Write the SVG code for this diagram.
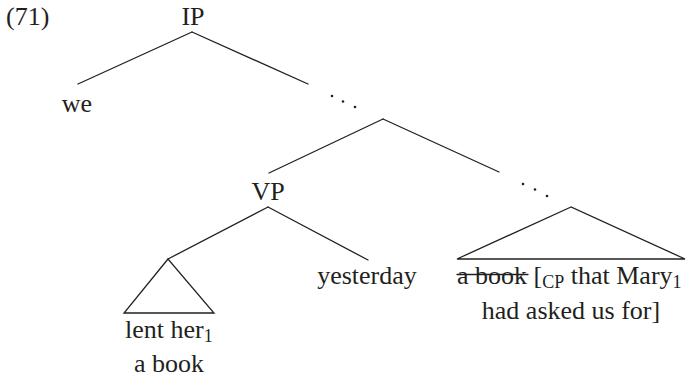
<svg xmlns="http://www.w3.org/2000/svg" width="686" height="377" viewBox="0 0 686 377" font-family="'Liberation Serif', 'Times New Roman', 'DejaVu Serif', serif">
<style>
text{font-family:'Liberation Serif','Times New Roman','DejaVu Serif',serif;font-size:26px;fill:#231f20}
.sub{font-size:18px}
.ln{stroke:#231f20;stroke-width:1.3;fill:none;stroke-linecap:round;stroke-linejoin:miter}
.dot{fill:#231f20}
</style>
<rect width="686" height="377" fill="#fff"/>
<text x="6" y="25">(71)</text>
<g id="n-ip"><text x="193" y="25" text-anchor="middle">IP</text></g>
<g id="n-we"><text x="77" y="112" text-anchor="middle">we</text></g>
<g id="n-dots1"><circle class="dot" cx="332" cy="96" r="1.3"/><circle class="dot" cx="343" cy="101.5" r="1.3"/><circle class="dot" cx="355" cy="107" r="1.3"/></g>
<g id="n-vp"><text x="268" y="200" text-anchor="middle">VP</text></g>
<g id="n-dots2"><circle class="dot" cx="523" cy="184" r="1.3"/><circle class="dot" cx="535" cy="189.5" r="1.3"/><circle class="dot" cx="547" cy="196" r="1.3"/></g>
<g id="n-yesterday"><text x="367" y="284" text-anchor="middle">yesterday</text></g>
<g id="n-lent"><text x="125" y="338">lent her<tspan class="sub" dy="4">1</tspan></text><text x="169" y="372" text-anchor="middle">a book</text></g>
<g id="n-cp"><text x="457" y="284">a book [<tspan class="sub" dy="4">CP</tspan><tspan dy="-4"> that Mary</tspan><tspan class="sub" dy="4">1</tspan></text>
<line class="ln" x1="457" y1="274.5" x2="528" y2="274.5"/>
<text x="571" y="319" text-anchor="middle">had asked us for]</text></g>
<g id="connectors">
<line class="ln" x1="192" y1="32" x2="78" y2="84"/>
<line class="ln" x1="192" y1="32" x2="308" y2="84"/>
<line class="ln" x1="383" y1="119" x2="269" y2="173"/>
<line class="ln" x1="383" y1="119" x2="499" y2="172"/>
<line class="ln" x1="268" y1="207" x2="168" y2="259"/>
<line class="ln" x1="268" y1="207" x2="368" y2="260"/>
<polygon class="ln" points="168,259 124,313 214,313"/>
<polygon class="ln" points="571,207 457,259 685,259"/>
</g>
</svg>
